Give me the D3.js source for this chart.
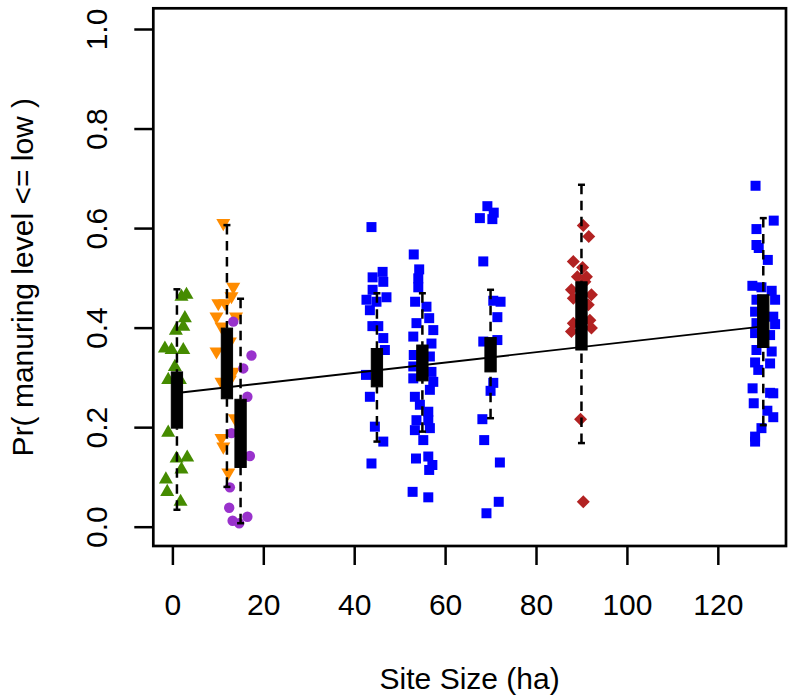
<!DOCTYPE html>
<html>
<head>
<meta charset="utf-8">
<script src="https://cdn.jsdelivr.net/npm/d3@7"></script>
<style>
  html, body { margin: 0; padding: 0; background: #fff; }
  svg text { font-family: "Liberation Sans", Arial, Helvetica, sans-serif; fill: #000; }
</style>
</head>
<body>
<svg id="chart" width="788" height="700"></svg>
<script>
// ---- data ----
const sites = [1, 12, 15, 45, 55, 70, 90, 130];
const boxQ1 = [0.198, 0.257, 0.119, 0.281, 0.293, 0.311, 0.355, 0.360];
const boxQ3 = [0.311, 0.399, 0.256, 0.358, 0.365, 0.380, 0.492, 0.466];
const whiskerLo = [0.034, 0.080, 0.007, 0.171, 0.191, 0.218, 0.168, 0.204];
const whiskerHi = [0.477, 0.606, 0.458, 0.469, 0.469, 0.476, 0.687, 0.620];

const g1x = [2.0, 3.1, 2.75, 0.77, 2.4, -1.65, -0.18, 2.4, 0.55, -0.92, 1.65, -0.92, 0.92, 3.26, 2.0, -1.43, -1.14, 1.8];
const g1y = [0.462, 0.466, 0.419, 0.394, 0.402, 0.358, 0.355, 0.355, 0.321, 0.295, 0.295, 0.189, 0.137, 0.139, 0.115, 0.095, 0.070, 0.050];

const g2x = [11.2, 13.4, 13.0, 10.1, 11.6, 9.7, 14.0, 10.8, 12.65, 9.7, 13.4, 12.65, 10.8, 13.75, 10.8, 11.2, 12.3];
const g2y = [0.610, 0.482, 0.463, 0.449, 0.449, 0.422, 0.422, 0.402, 0.372, 0.352, 0.311, 0.295, 0.291, 0.218, 0.178, 0.161, 0.109];

const g3x = [13.4, 17.4, 15.6, 16.5, 13.0, 17.05, 12.65, 12.5, 13.25, 14.7, 16.5];
const g3y = [0.412, 0.344, 0.318, 0.261, 0.188, 0.142, 0.079, 0.038, 0.012, 0.007, 0.020];

const g4x = [43.8, 46.25, 44.05, 46.4, 44.05, 42.7, 47.1, 44.9, 43.45, 44.0, 45.3, 46.4, 46.75, 42.6, 43.45, 44.55, 46.4, 43.8];
const g4y = [0.602, 0.512, 0.501, 0.492, 0.476, 0.456, 0.461, 0.452, 0.435, 0.403, 0.403, 0.379, 0.355, 0.305, 0.261, 0.201, 0.171, 0.127];

const g5x = [53.1, 54.3, 54.1, 54.1, 53.4, 55.9, 56.5, 53.7, 57.4, 53.0, 57.0, 53.1, 56.65, 53.0, 57.0, 53.0, 57.4, 56.65, 53.35, 54.45, 56.3, 53.7, 56.3, 53.35, 56.65, 55.2, 53.6, 56.3, 57.2, 56.5, 52.85, 56.3];
const g5y = [0.547, 0.517, 0.499, 0.481, 0.452, 0.442, 0.419, 0.409, 0.395, 0.382, 0.368, 0.345, 0.342, 0.322, 0.311, 0.298, 0.291, 0.275, 0.261, 0.245, 0.231, 0.214, 0.214, 0.194, 0.198, 0.174, 0.137, 0.141, 0.124, 0.114, 0.070, 0.059];

const g6x = [69.3, 70.7, 67.65, 70.4, 68.4, 70.6, 72.2, 71.5, 68.4, 71.5, 70.6, 70.0, 68.2, 68.6, 72.05, 71.8, 69.1];
const g6y = [0.644, 0.631, 0.620, 0.618, 0.533, 0.454, 0.452, 0.421, 0.372, 0.375, 0.289, 0.273, 0.216, 0.174, 0.129, 0.050, 0.027];

const g7x = [90.4, 91.6, 88.2, 90.25, 89.1, 91.1, 90.75, 87.8, 92.2, 88.2, 91.5, 91.85, 88.2, 92.2, 87.8, 89.8, 90.4];
const g7y = [0.605, 0.583, 0.533, 0.521, 0.502, 0.502, 0.492, 0.476, 0.466, 0.459, 0.446, 0.415, 0.409, 0.399, 0.392, 0.216, 0.050];

const g8x = [128.3, 132.3, 128.5, 128.5, 129.0, 131.0, 127.6, 129.6, 131.85, 128.5, 132.6, 128.2, 132.2, 128.5, 132.6, 128.2, 131.5, 128.5, 131.85, 128.2, 131.5, 128.9, 127.65, 131.5, 132.2, 127.9, 130.9, 132.2, 129.6, 128.2, 128.2];
const g8y = [0.685, 0.615, 0.598, 0.566, 0.560, 0.536, 0.484, 0.481, 0.474, 0.456, 0.456, 0.432, 0.422, 0.409, 0.407, 0.389, 0.385, 0.355, 0.352, 0.330, 0.328, 0.315, 0.278, 0.269, 0.268, 0.248, 0.233, 0.220, 0.198, 0.181, 0.171];

const groupX = [g1x, g2x, g3x, g4x, g5x, g6x, g7x, g8x];
const groupY = [g1y, g2y, g3y, g4y, g5y, g6y, g7y, g8y];
const groupShape = ["triUp", "triDown", "circle", "square", "square", "square", "diamond", "square"];
const groupColor = ["#458B00", "#FF8C00", "#9932CC", "#0000FF", "#0000FF", "#0000FF", "#B22222", "#0000FF"];

const fitIntercept = 0.2675, fitSlope = 0.001038;
const fitRange = [1, 130];

const xTicks = [0, 20, 40, 60, 80, 100, 120];
const yTicks = [0, 0.2, 0.4, 0.6, 0.8, 1.0];
const xLabel = "Site Size (ha)";
const yLabel = "Pr( manuring level <= low )";

// ---- layout ----
const L = 153.3, R = 786, T = 8.3, B = 546;
const x = d3.scaleLinear().domain([-4.2, 135]).range([L, R]);
const y = d3.scaleLinear().domain([-0.0388, 1.0416]).range([B, T]);

const svg = d3.select("#chart");

// symbol paths
function shapePath(kind, cx, cy) {
  if (kind === "triUp" || kind === "triDown") {
    const xc = 5.2, r = 1.5551 * xc, h = 1.3468 * xc, yc = 0.7776 * xc;
    const s = kind === "triUp" ? 1 : -1;
    return `M${cx},${cy - s * r}L${cx + h},${cy + s * yc}L${cx - h},${cy + s * yc}Z`;
  }
  if (kind === "square") {
    const a = 5.0;
    return `M${cx - a},${cy - a}h${2 * a}v${2 * a}h${-2 * a}Z`;
  }
  if (kind === "diamond") {
    const a = 6.5;
    return `M${cx},${cy - a}L${cx + a},${cy}L${cx},${cy + a}L${cx - a},${cy}Z`;
  }
  // circle
  const rr = 5.2;
  return `M${cx - rr},${cy}a${rr},${rr} 0 1,0 ${2 * rr},0a${rr},${rr} 0 1,0 ${-2 * rr},0Z`;
}

// points
const pts = svg.append("g");
groupX.forEach((gx, gi) => {
  const data = gx.map((v, i) => [v, groupY[gi][i]]);
  pts.selectAll(null).data(data).enter().append("path")
    .attr("d", d => shapePath(groupShape[gi], x(d[0]), y(d[1])))
    .attr("fill", groupColor[gi]);
});

// regression line
svg.append("line")
  .attr("x1", x(fitRange[0])).attr("y1", y(fitIntercept + fitSlope * fitRange[0]))
  .attr("x2", x(fitRange[1])).attr("y2", y(fitIntercept + fitSlope * fitRange[1]))
  .attr("stroke", "#000").attr("stroke-width", 1.9);

// boxplots
const bw = 11.3, sw = 7;
const boxes = svg.append("g");
sites.forEach((s, i) => {
  const cx = x(s);
  boxes.append("line").attr("x1", cx).attr("x2", cx)
    .attr("y1", y(whiskerLo[i])).attr("y2", y(boxQ1[i]))
    .attr("stroke", "#000").attr("stroke-width", 2.5).attr("stroke-dasharray", "9.5,6.5");
  boxes.append("line").attr("x1", cx).attr("x2", cx)
    .attr("y1", y(whiskerHi[i])).attr("y2", y(boxQ3[i]))
    .attr("stroke", "#000").attr("stroke-width", 2.5).attr("stroke-dasharray", "9.5,6.5");
  [whiskerLo[i], whiskerHi[i]].forEach(v => {
    boxes.append("line").attr("x1", cx - sw / 2).attr("x2", cx + sw / 2)
      .attr("y1", y(v)).attr("y2", y(v))
      .attr("stroke", "#000").attr("stroke-width", 2.5);
  });
  boxes.append("rect")
    .attr("x", cx - bw / 2).attr("width", bw)
    .attr("y", y(boxQ3[i])).attr("height", y(boxQ1[i]) - y(boxQ3[i]))
    .attr("fill", "#000").attr("stroke", "#000").attr("stroke-width", 1);
});

// axes
const xAxis = d3.axisBottom(x).tickValues(xTicks).tickSize(19).tickFormat(d3.format("d"));
const gx = svg.append("g").attr("transform", `translate(0,${B})`).call(xAxis);
gx.select(".domain").remove();
gx.selectAll(".tick line").attr("stroke-width", 2.5);
gx.selectAll(".tick text").attr("y", 69).attr("dy", 0).attr("font-size", 30)
  .style("font-family", '"Liberation Sans", Arial, sans-serif');

const yAxis = d3.axisLeft(y).tickValues(yTicks).tickSize(19).tickFormat(d3.format(".1f"));
const gy = svg.append("g").attr("transform", `translate(${L},0)`).call(yAxis);
gy.select(".domain").remove();
gy.selectAll(".tick line").attr("stroke-width", 2.5);
gy.selectAll(".tick text")
  .attr("x", 0).attr("dy", 0).attr("font-size", 30)
  .attr("text-anchor", "middle")
  .attr("transform", `translate(${107 - L},0) rotate(-90)`)
  .style("font-family", '"Liberation Sans", Arial, sans-serif');

// plot frame
svg.append("rect").attr("x", L).attr("y", T).attr("width", R - L).attr("height", B - T)
  .attr("fill", "none").attr("stroke", "#000").attr("stroke-width", 2.7);

// axis titles
svg.append("text").attr("x", (L + R) / 2).attr("y", 689)
  .attr("text-anchor", "middle").attr("font-size", 30).text(xLabel);
svg.append("text").attr("transform", `translate(33,${(T + B) / 2}) rotate(-90)`)
  .attr("text-anchor", "middle").attr("font-size", 30).text(yLabel);
</script>
</body>
</html>
